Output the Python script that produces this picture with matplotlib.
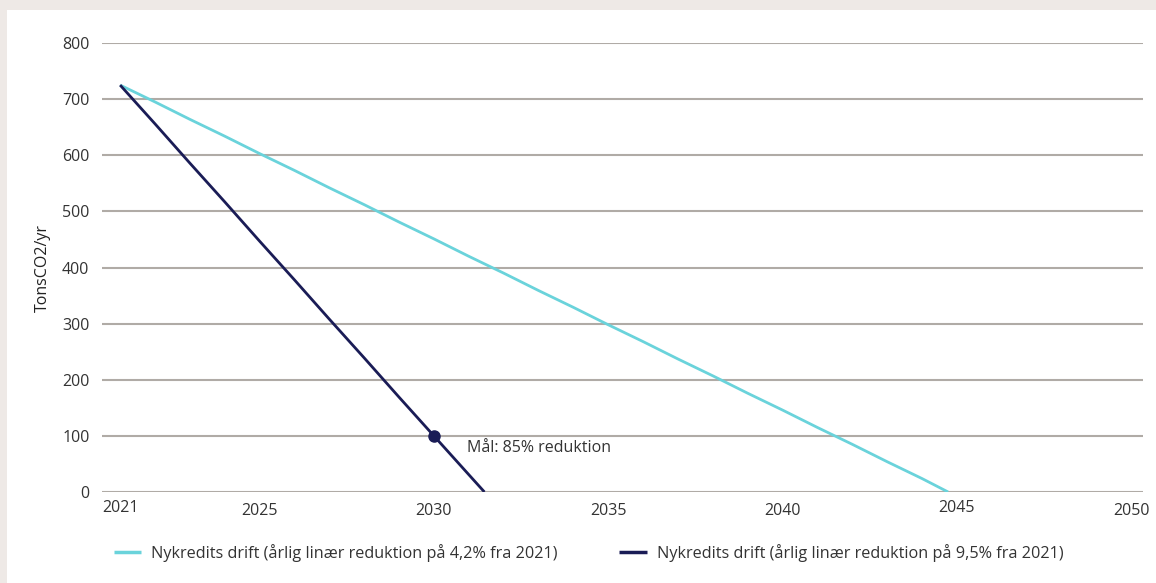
import matplotlib
matplotlib.use("Agg")
import matplotlib.pyplot as plt
from matplotlib.patches import Rectangle
import matplotlib.transforms as mtransforms

plt.rcParams['font.family'] = ['Open Sans', 'DejaVu Sans']

years_a = [2021, 2022, 2023, 2024, 2025, 2026, 2027, 2028, 2029, 2030, 2031, 2032,
           2033, 2034, 2035, 2036, 2037, 2038, 2039, 2040, 2041, 2042, 2043, 2044, 2044.75]
values_a = [725, 695, 664, 634, 603, 573, 542, 512, 481, 451, 420, 390,
            359, 329, 298, 268, 237, 207, 176, 146, 115, 85, 54, 24, 0]

years_b = [2021, 2022, 2023, 2024, 2025, 2026, 2027, 2028, 2029, 2030, 2031, 2031.45]
values_b = [725, 656, 586, 517, 447, 378, 308, 239, 169, 100, 31, 0]

label_a = "Nykredits drift (årlig linær reduktion på 4,2% fra 2021)"
label_b = "Nykredits drift (årlig linær reduktion på 9,5% fra 2021)"
target_year = 2030
target_value = 100
target_label = "Mål: 85% reduktion"
ylabel = "TonsCO2/yr"
xticks = [2021, 2025, 2030, 2035, 2040, 2045, 2050]
yticks = [0, 100, 200, 300, 400, 500, 600, 700, 800]

W, H = 1156, 583
FS = 11.5
fig = plt.figure(figsize=(W / 100, H / 100), dpi=100)
fig.patch.set_facecolor('#EEE9E6')
fig.patches.append(Rectangle((7 / W, 0), 1 - 7 / W, 1 - 10 / H, transform=fig.transFigure,
                             facecolor='white', edgecolor='none', zorder=-10))

ax = fig.add_axes([102 / W, 1 - 492 / H, (1143 - 102) / W, (492 - 43) / H])
ax.set_facecolor('none')
ax.set_xlim(2020.48, 2050.34)
ax.set_ylim(0, 800)

grid_c = '#B0ABA6'
for v in yticks:
    ax.axhline(v, color=grid_c, lw=1.5, zorder=1)

cyan = '#6AD3DB'
navy = '#1A1C56'
ax.plot(years_a, values_a, color=cyan, lw=2.0, zorder=3, solid_capstyle='butt', label=label_a)
ax.plot(years_b, values_b, color=navy, lw=2.0, zorder=4, solid_capstyle='butt', label=label_b)
ax.plot([target_year], [target_value], 'o', color=navy, ms=8, zorder=5)
ax.annotate(target_label, (target_year, target_value), xytext=(23.5, -8.5),
            textcoords='offset points', va='center', ha='left', fontsize=FS, color='#333333')

for s in ax.spines.values():
    s.set_visible(False)
ax.set_xticks(xticks)
ax.set_yticks(yticks)
ax.tick_params(axis='both', length=0, labelsize=FS, labelcolor='#333333')
ax.tick_params(axis='y', pad=9)
ax.tick_params(axis='x', pad=8)

for lab in ax.get_xticklabels():
    if lab.get_text() in ('2021', '2045'):
        lab.set_transform(lab.get_transform() + mtransforms.ScaledTranslation(0, 3 / 100, fig.dpi_scale_trans))

ax.set_ylabel(ylabel, fontsize=FS, color='#222222', labelpad=8)

leg = fig.legend(loc='center left', bbox_to_anchor=(99 / W, 1 - 553 / H), ncol=2, frameon=False,
                 fontsize=11.7, handlelength=1.7, handletextpad=0.6, columnspacing=3.8,
                 labelcolor='#333333')
for h in leg.get_lines():
    h.set_linewidth(2.5)

fig.savefig('out.png', dpi=100, facecolor=fig.get_facecolor())
